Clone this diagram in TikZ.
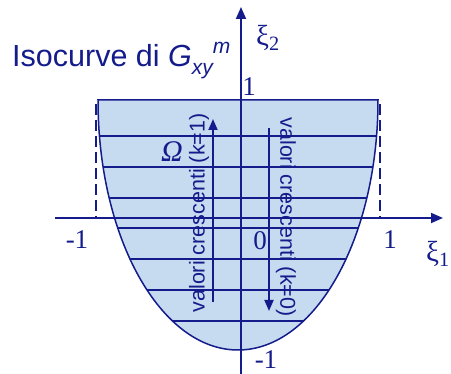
\documentclass[tikz,border=0pt]{standalone}
\usepackage{fontspec}
\setmainfont{Liberation Serif}
\setsansfont{Liberation Sans}
\usetikzlibrary{arrows.meta}

\definecolor{blu}{RGB}{20,28,140}
\definecolor{azzurro}{RGB}{198,218,240}

\begin{document}
\begin{tikzpicture}[x=1pt, y=-1pt,
		every node/.style={text=blu, inner sep=0pt},
		asse/.style={draw=blu, line width=1.8pt, -{Triangle[length=12pt, width=10pt]}},
		freccia/.style={draw=blu, line width=1.8pt, -{Triangle[length=11pt, width=9pt]}},
		isolinea/.style={draw=blu, line width=2.3pt},
		bordo/.style={draw=blu, line width=1.5pt},
		tratteggio/.style={draw=blu, line width=1.6pt, dash pattern=on 11pt off 5pt},
		numero/.style={font=\fontsize{27}{27}\selectfont},
		verticale/.style={font=\sffamily\fontsize{21.5}{21.5}\selectfont}]
		\useasboundingbox (0,0) rectangle (451,374);
		% regione Omega
		\fill[azzurro] (98,100) arc[start angle=180, end angle=0, x radius=140, y radius=250] -- cycle;
		\begin{scope}
			\clip (98,100) arc[start angle=180, end angle=0, x radius=140, y radius=250] -- cycle;
			\foreach \y in {136,167,198,228,259,290,321}
				\draw[isolinea] (80,\y) -- (400,\y);
		\end{scope}
		\draw[bordo] (98,100) arc[start angle=180, end angle=0, x radius=140, y radius=250] -- cycle;
		\draw[tratteggio] (96,104) -- (96,218);
		\draw[tratteggio] (380,104) -- (380,218);
		% assi
		\coordinate (x_in) at (55,218);
		\coordinate (x_fin) at (443,218);
		\coordinate (y_in) at (241,374);
		\coordinate (y_fin) at (241,7);
		\draw[asse] (x_in) -- (x_fin);
		\draw[asse] (y_in) -- (y_fin);
		% frecce k=1 e k=0
		\coordinate (k1_in) at (213,302);
		\coordinate (k1_fin) at (213,119);
		\coordinate (k0_in) at (269,128);
		\coordinate (k0_fin) at (269,311);
		\draw[freccia] (k1_in) -- (k1_fin);
		\draw[freccia] (k0_in) -- (k0_fin);
		% testi
		\node[anchor=base west, font=\sffamily\fontsize{30.5}{30.5}\selectfont] (titolo) at (12,67) {Isocurve di \textit{G}\raisebox{-8pt}{\fontsize{21}{21}\selectfont\itshape xy}\raisebox{13pt}{\fontsize{21}{21}\selectfont\itshape m}};
		\node[numero] (uno_y) at (249,87) {1};
		\node[numero] (meno_uno_y) at (266,360) {-1};
		\node[numero] (meno_uno_x) at (77,240) {-1};
		\node[numero] (uno_x) at (390,240) {1};
		\node[numero] (zero) at (260,241) {0};
		\node[font=\fontsize{29}{29}\selectfont] (xi_due) at (268,38) {ξ\textsubscript{2}};
		\node[font=\fontsize{29}{29}\selectfont] (xi_uno) at (438,254) {ξ\textsubscript{1}};
		\node[font=\itshape\fontsize{30}{30}\selectfont] (omega) at (172,152) {Ω};
		\node[verticale, rotate=90] (val_k1) at (199,213) {valori crescenti (k=1)};
		\node[verticale, rotate=-90] (val_k0) at (286,217) {valori crescenti (k=0)};
	\end{tikzpicture}
\end{document}
